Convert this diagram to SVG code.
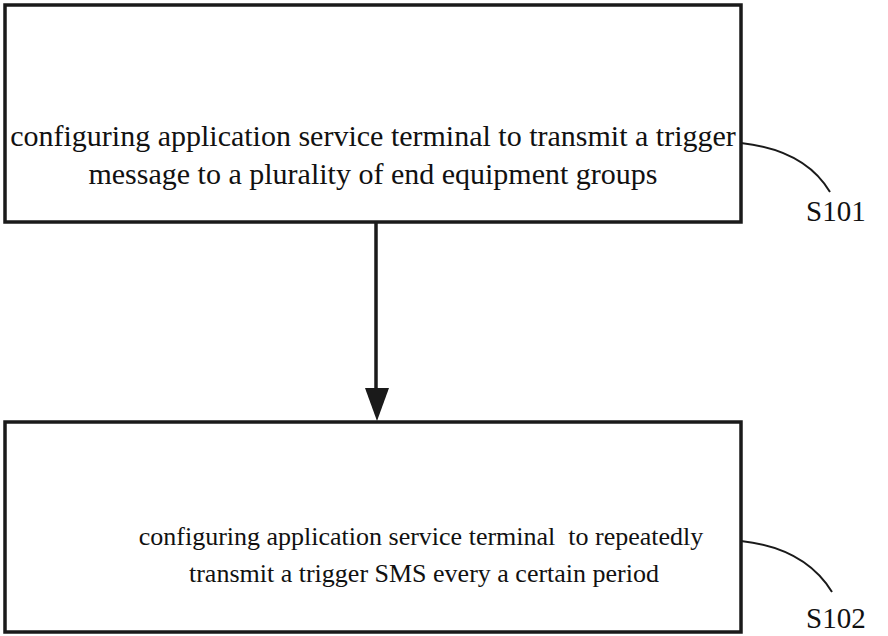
<svg xmlns="http://www.w3.org/2000/svg" width="888" height="636" viewBox="0 0 888 636">
<style>
.box{fill:#fff;stroke:#1a1a1a;stroke-width:3.5}
.t{font-family:"Liberation Serif","Times New Roman",serif;font-size:30px;fill:#111}
.t2{font-family:"Liberation Serif","Times New Roman",serif;font-size:26px;fill:#111}
.lbl{font-family:"Liberation Serif","Times New Roman",serif;font-size:29px;fill:#111}
.lead{fill:none;stroke:#1a1a1a;stroke-width:2}
.conn{stroke:#1a1a1a;stroke-width:3.5;fill:none}
</style>
<rect width="888" height="636" fill="#fff"/>
<g id="s101">
<rect class="box" x="5" y="5" width="736" height="217"/>
<text class="t" x="373" y="146" text-anchor="middle">configuring application service terminal to transmit a trigger</text>
<text class="t" x="373" y="184" text-anchor="middle">message to a plurality of end equipment groups</text>
<path class="lead" d="M741,143 Q805,150 830,192"/>
<text class="lbl" x="806" y="221">S101</text>
</g>
<g id="s102">
<rect class="box" x="5" y="422" width="736" height="210"/>
<text class="t2" x="421" y="545" text-anchor="middle" xml:space="preserve">configuring application service terminal  to repeatedly</text>
<text class="t2" x="424" y="582" text-anchor="middle">transmit a trigger SMS every a certain period</text>
<path class="lead" d="M741,541 Q805,548 832,592"/>
<text class="lbl" x="806" y="628">S102</text>
</g>
<g id="connectors">
<line class="conn" x1="376" y1="222" x2="376" y2="392"/>
<path d="M365,388 L389,388 L377,421 Z" fill="#1a1a1a"/>
</g>
</svg>
